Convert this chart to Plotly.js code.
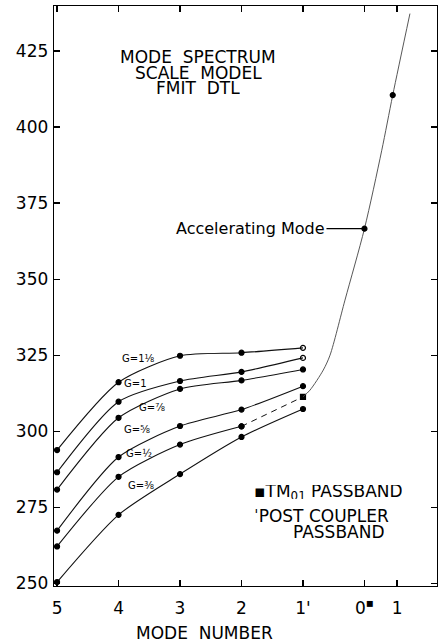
<!DOCTYPE html>
<html>
<head>
<meta charset="utf-8">
<script src="https://cdn.plot.ly/plotly-3.0.1.min.js"></script>
<style>html,body{margin:0;padding:0;background:#fff;}#chart{width:440px;height:644px;}</style>
</head>
<body>
<div id="chart"></div>
<script>
// Mode positions (mode number, reversed axis) for the TM01 passband curves
var modes = [5, 4, 3, 2, 1];
var modeTickVals = [5, 4, 3, 2, 1, 0, -0.53];
var modeTickText = ['5', '4', '3', '2', "1'", '0<sup>▪</sup>', '1'];
var yTickVals = [250, 275, 300, 325, 350, 375, 400, 425];

// Frequency values (MHz), per G value
var gLabels = ['G=1⅛', 'G=1', 'G=⅞', 'G=⅝', 'G=½', 'G=⅜'];
var g118 = [293.8, 316.1, 324.8, 325.8, 327.4];
var g1   = [286.5, 309.7, 316.5, 319.5, 324.1];
var g78  = [280.8, 304.4, 313.9, 316.7, 320.3];
var g58  = [267.3, 291.5, 301.7, 307.1, 314.8];
var g12  = [262.1, 285.0, 295.6, 301.6, 311.3];
var g38  = [250.4, 272.5, 285.9, 298.1, 307.3];

// Post coupler passband / accelerating mode curve
var pcX = [1.0, 0.886, 0.67, 0.56, 0.317, 0.0, -0.28, -0.46, -0.74];
var pcY = [311.3, 313.5, 320.1, 325.0, 343.1, 366.6, 392.2, 410.5, 437.3];
var pcMarkX = [0.0, -0.46];
var pcMarkY = [366.6, 410.5];

var lineStyle = {color: '#111', width: 1.1, shape: 'spline', smoothing: 0.7};
function dots(syms) {
  return {color: '#000', size: 5, symbol: syms || 'circle', line: {color: '#000', width: 1.2}};
}

var traces = [
  {x: modes, y: g118, mode: 'lines+markers', line: lineStyle,
   marker: dots(['circle','circle','circle','circle','circle-open'])},
  {x: modes, y: g1, mode: 'lines+markers', line: lineStyle,
   marker: dots(['circle','circle','circle','circle','circle-open'])},
  {x: modes, y: g78, mode: 'lines+markers', line: lineStyle, marker: dots()},
  {x: modes, y: g58, mode: 'lines+markers', line: lineStyle, marker: dots()},
  {x: modes.slice(0, 4), y: g12.slice(0, 4), mode: 'lines+markers', line: lineStyle, marker: dots()},
  {x: modes.slice(3), y: g12.slice(3), mode: 'lines+markers',
   line: {color: '#111', width: 1.0, dash: '6px,5px'},
   marker: dots(['circle', 'square'])},
  {x: modes, y: g38, mode: 'lines+markers', line: lineStyle, marker: dots()},
  {x: pcX, y: pcY, mode: 'lines', line: {color: '#444', width: 0.9, shape: 'spline', smoothing: 0.8}},
  {x: pcMarkX, y: pcMarkY, mode: 'markers', marker: dots()}
];

var F = 'DejaVu Sans, Arial, sans-serif';
function ann(text, x, y, size, extra) {
  var a = {text: text, xref: 'paper', yref: 'paper', x: x, y: y, showarrow: false,
           font: {family: F, size: size, color: '#000'}, xanchor: 'center', yanchor: 'middle',
           borderpad: 0};
  for (var k in extra) a[k] = extra[k];
  return a;
}

var annotations = [
  ann('MODE  SPECTRUM', 0.376, 0.9126, 17, {height: 14}),
  ann('SCALE  MODEL', 0.376, 0.885, 17, {height: 14}),
  ann('FMIT  DTL', 0.376, 0.858, 17, {height: 14}),
  ann('MODE  NUMBER', 0.394, -0.081, 17),
  ann('▪TM<sub>01</sub> PASSBAND', 0.5196, 0.1626, 17, {xanchor: 'left', height: 14}),
  ann('ˈPOST COUPLER', 0.5196, 0.1207, 17, {xanchor: 'left', height: 14}),
  ann('PASSBAND', 0.6214, 0.0936, 17, {xanchor: 'left', height: 14}),
  ann(gLabels[0], 0.2193, 0.3931, 10),
  ann(gLabels[1], 0.2115, 0.3483, 10),
  ann(gLabels[2], 0.2559, 0.3086, 10),
  ann(gLabels[3], 0.2167, 0.2690, 10),
  ann(gLabels[4], 0.2219, 0.2293, 10),
  ann(gLabels[5], 0.2272, 0.1741, 10),
  {text: 'Accelerating Mode', x: pcMarkX[0], y: pcMarkY[0], xref: 'x', yref: 'y',
   showarrow: true, arrowhead: 0, arrowwidth: 1.3, arrowcolor: '#000', standoff: 2,
   ax: -38, ay: 0, xanchor: 'right', yanchor: 'middle',
   font: {family: F, size: 16, color: '#000'}}
];

var layout = {
  width: 440, height: 644,
  margin: {l: 54, r: 3, t: 6, b: 58},
  paper_bgcolor: '#fff', plot_bgcolor: '#fff',
  showlegend: false,
  font: {family: F, size: 17, color: '#000'},
  xaxis: {range: [5.05, -1.18], tickvals: modeTickVals, ticktext: modeTickText,
          ticks: 'inside', ticklen: 6, tickwidth: 1.2, tickcolor: '#000',
          showline: true, linecolor: '#000', linewidth: 1.3, mirror: 'ticks',
          showgrid: false, zeroline: false, ticklabelstandoff: 6,
          tickfont: {family: F, size: 17, color: '#000'}},
  yaxis: {range: [249.1, 439.8], tickvals: yTickVals,
          ticks: 'inside', ticklen: 6, tickwidth: 1.2, tickcolor: '#000',
          showline: true, linecolor: '#000', linewidth: 1.3, mirror: 'ticks',
          showgrid: false, zeroline: false, ticklabelstandoff: 1,
          tickfont: {family: F, size: 17, color: '#000'}},
  annotations: annotations
};

Plotly.newPlot('chart', traces, layout, {staticPlot: true, displayModeBar: false});
</script>
</body>
</html>
